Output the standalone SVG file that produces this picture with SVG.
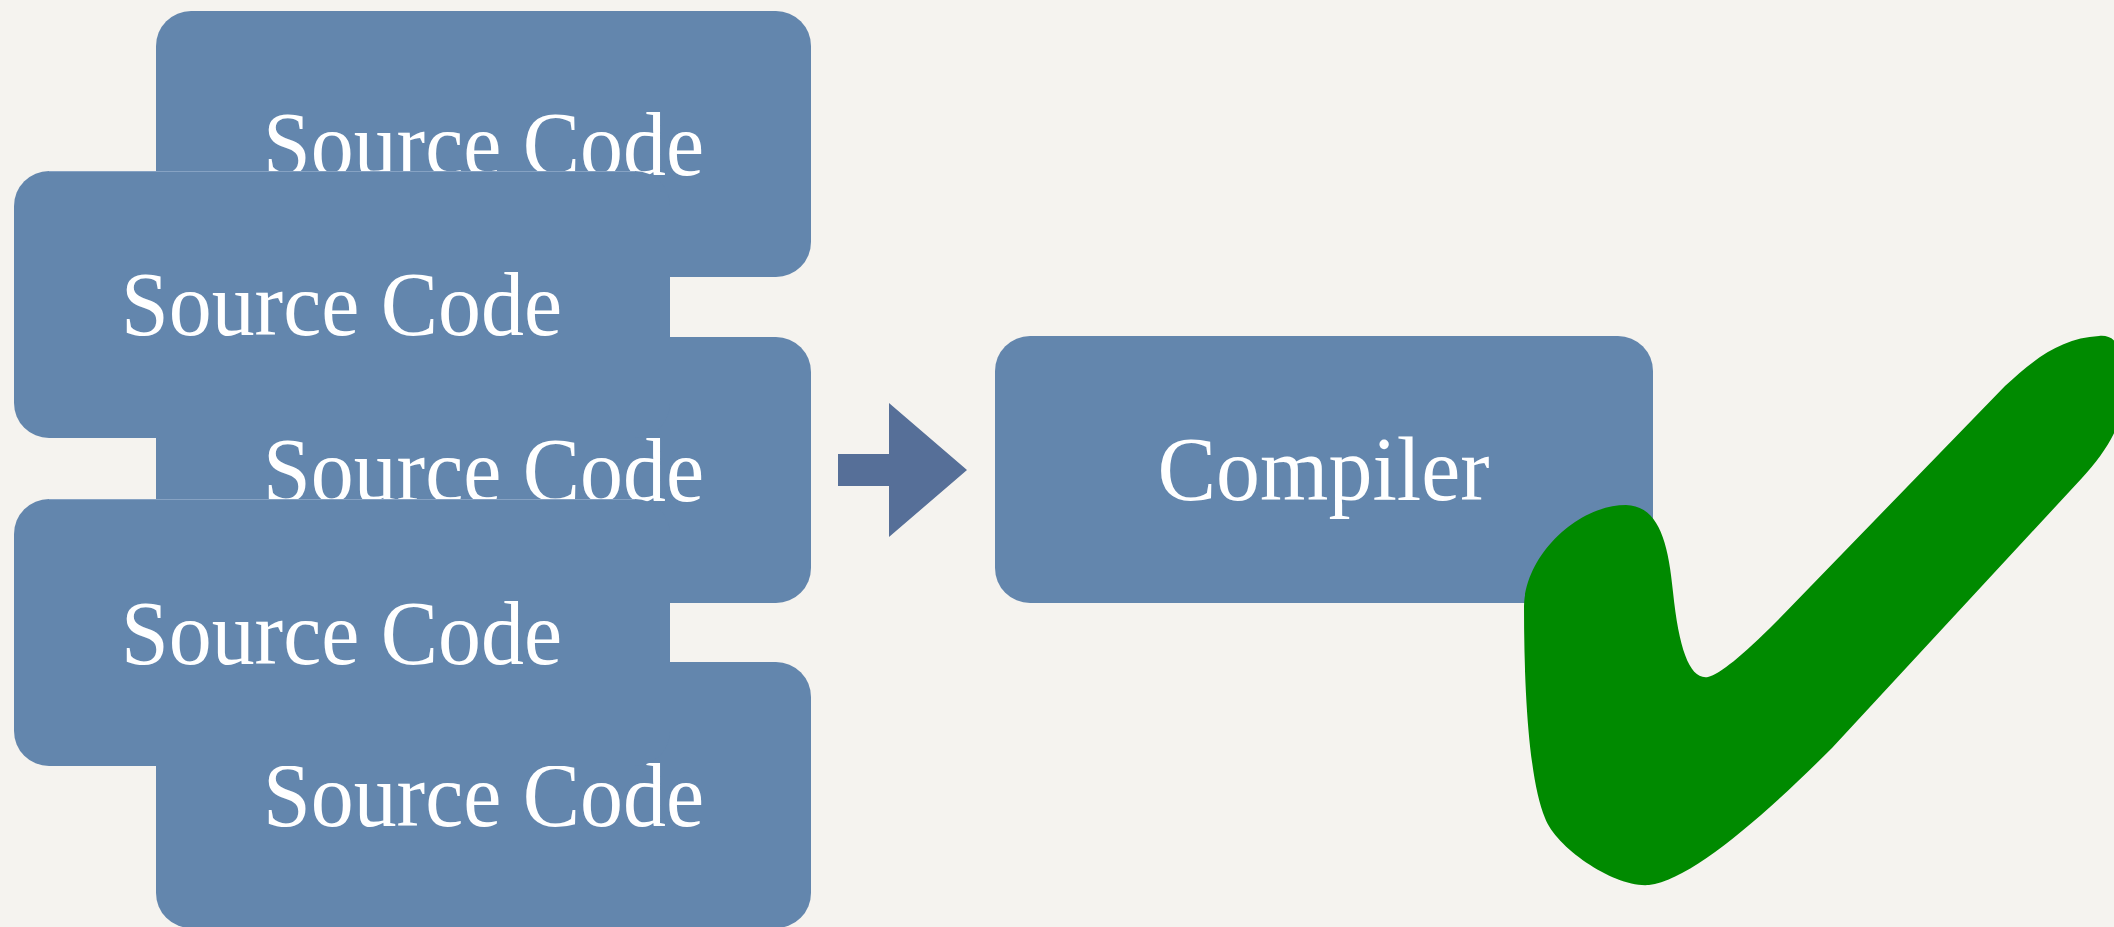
<svg xmlns="http://www.w3.org/2000/svg" width="2114" height="927" viewBox="0 0 2114 927">
  <style>
    .box { fill: #6386ad; }
    .label { fill: #ffffff; font-family: "Liberation Serif", "Times New Roman", serif; font-size: 90px; text-anchor: middle; }
    .arrow { fill: #566f98; }
    .check { fill: #008a00; }
  </style>
  <rect x="0" y="0" width="2114" height="927" fill="#f5f3ef"/>

  <!-- back row of source files -->
  <g id="source-a">
    <rect class="box" x="156" y="11" width="655" height="266" rx="35" ry="35"/>
    <text class="label" x="483.5" y="175" textLength="441" lengthAdjust="spacingAndGlyphs">Source Code</text>
  </g>
  <g id="source-c">
    <rect class="box" x="156" y="337" width="655" height="266" rx="35" ry="35"/>
    <text class="label" x="483.5" y="501" textLength="441" lengthAdjust="spacingAndGlyphs">Source Code</text>
  </g>
  <g id="source-e">
    <rect class="box" x="156" y="662" width="655" height="266" rx="35" ry="35"/>
    <text class="label" x="483.5" y="826" textLength="441" lengthAdjust="spacingAndGlyphs">Source Code</text>
  </g>

  <!-- front row of source files -->
  <g id="source-b">
    <rect class="box" x="14" y="171" width="656" height="267" rx="35" ry="35"/>
    <line x1="49" y1="171.5" x2="635" y2="171.5" stroke="#86a2c3" stroke-width="1"/>
    <text class="label" x="341.5" y="335" textLength="441" lengthAdjust="spacingAndGlyphs">Source Code</text>
  </g>
  <g id="source-d">
    <rect class="box" x="14" y="499" width="656" height="267" rx="35" ry="35"/>
    <line x1="49" y1="499.5" x2="635" y2="499.5" stroke="#86a2c3" stroke-width="1"/>
    <text class="label" x="341.5" y="664" textLength="441" lengthAdjust="spacingAndGlyphs">Source Code</text>
  </g>

  <!-- compiler -->
  <g id="compiler">
    <rect class="box" x="995" y="336" width="658" height="267" rx="35" ry="35"/>
    <text class="label" x="1323.5" y="500" textLength="332" lengthAdjust="spacingAndGlyphs">Compiler</text>
  </g>

  <!-- connectors -->
  <g id="connectors">
    <polygon class="arrow" points="838,454 889,454 889,403 967,470 889,537 889,486 838,486"/>
  </g>

  <!-- success mark -->
  <g id="checkmark">
    <path class="check" d="M 2099 336
      C 2062 338, 2035 358, 2005 386
      L 1776 622
      C 1742 656, 1720 674, 1708 677
      C 1690 680, 1679 650, 1673 592
      C 1668 540, 1658 506, 1626 505
      C 1578 505, 1525 555, 1524 606
      C 1524 700, 1530 782, 1545 818
      C 1556 848, 1615 888, 1649 885
      C 1690 880, 1762 818, 1832 748
      L 2082 478
      C 2108 450, 2125 420, 2125 390
      C 2125 352, 2118 334, 2099 336 Z"/>
  </g>
</svg>
